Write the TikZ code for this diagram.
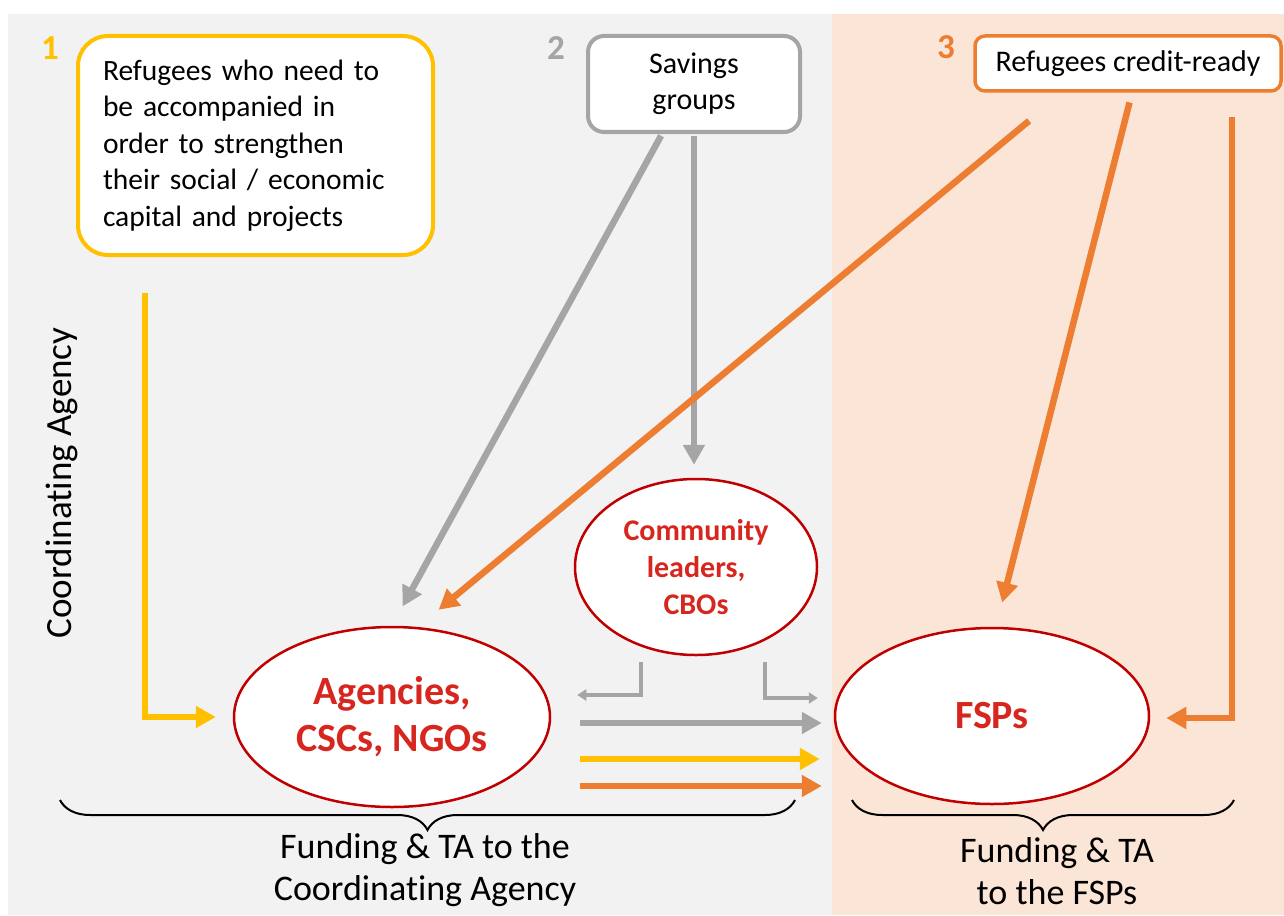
\documentclass[tikz,border=0pt]{standalone}
\usepackage{fontspec}
\setmainfont{Carlito}[Ligatures=NoCommon]
\usetikzlibrary{arrows.meta,shapes.geometric,decorations.pathreplacing}
\definecolor{bggrey}{HTML}{F2F2F2}
\definecolor{peach}{HTML}{FBE5D6}
\definecolor{ayellow}{HTML}{FFC000}
\definecolor{agrey}{HTML}{A5A5A5}
\definecolor{aorange}{HTML}{ED7D31}
\definecolor{ered}{HTML}{C00000}
\definecolor{tred}{HTML}{D7261E}
\tikzset{
	bigarrow/.style={line width=6.5pt, -{Triangle[length=20pt,width=21pt]}},
	smallarrow/.style={line width=3.5pt, -{Triangle[length=9pt,width=11pt]}},
	oval/.style={ellipse, draw=ered, line width=2.5pt, fill=white, inner sep=0pt, text=tred, align=center},
	card/.style={rectangle, line width=4pt, fill=white, align=center, inner sep=0pt},
	numlabel/.style={font=\fontsize{35}{35}\selectfont\bfseries},
	fundbrace/.style={decorate, decoration={brace, amplitude=30pt, mirror}, line width=2pt},
}

\begin{document}
\begin{tikzpicture}[x=1pt, y=-1pt]
	%%%%% START %%%%%
	\useasboundingbox (0,0) rectangle (1284,915);
	
	\fill[bggrey] (8,14) rectangle (832,915);
	\fill[peach] (832,14) rectangle (1284,915);
	
	\node[card, draw=ayellow, rounded corners=30pt, minimum width=355pt, minimum height=219pt, text width=305pt, align=left, font=\fontsize{29.5}{36.5}\selectfont] (refugees) at (255.5,145.5) {Refugees who need to\\ be accompanied in\\ order to strengthen\\ their social / economic\\ capital and projects};
	\node[card, draw=agrey, rounded corners=16pt, minimum width=212pt, minimum height=96pt, font=\fontsize{30}{36}\selectfont] (savings) at (694,84) {Savings\\ groups};
	\node[card, draw=aorange, rounded corners=10pt, minimum width=306pt, minimum height=55pt, line width=3.5pt, font=\fontsize{30}{33}\selectfont] (credit) at (1128,63.5) {Refugees credit-ready};
	
	\node[numlabel, text=ayellow] (num1) at (50,48) {1};
	\node[numlabel, text=agrey] (num2) at (556,48) {2};
	\node[numlabel, text=aorange] (num3) at (946,47) {3};
	
	\node[rotate=90, font=\fontsize{37}{37}\selectfont] (coordlabel) at (62,483) {Coordinating Agency};
	
	\node[oval, minimum width=316pt, minimum height=180pt, font=\fontsize{40}{47}\selectfont\bfseries] (agencies) at (392,717) {Agencies,\\ CSCs, NGOs};
	\node[oval, minimum width=242pt, minimum height=176pt, font=\fontsize{30}{37}\selectfont\bfseries] (community) at (696,567) {Community\\ leaders,\\ CBOs};
	\node[oval, minimum width=314pt, minimum height=176pt, font=\fontsize{40}{47}\selectfont\bfseries] (fsps) at (992,716) {FSPs};
	
	% refugees in need
	\draw[bigarrow, ayellow, shorten >=17pt] ([xshift=-110.5pt,yshift=-36pt]refugees.south) |- (agencies.west);
	
	% savings groups
	\draw[bigarrow, agrey, shorten <=2pt, shorten >=22pt] ([xshift=-32pt]savings.south) -- (agencies.north);
	\draw[bigarrow, agrey, shorten <=2pt, shorten >=13pt] (savings.south) -- (savings.south |- community.north);
	
	% credit-ready
	\draw[bigarrow, aorange, shorten <=44pt, shorten >=27pt] ([xshift=-65pt]credit.south) -- (agencies.74);
	\draw[bigarrow, aorange, shorten <=10pt, shorten >=25pt] ([xshift=4pt]credit.south) -- ([xshift=4pt]fsps.north);
	\draw[bigarrow, aorange, shorten >=16pt] ([xshift=104pt,yshift=-24pt]credit.south) |- ([yshift=-2pt]fsps.east);
	
	% community leaders
	\draw[smallarrow, agrey, shorten >=26pt] ([xshift=-55pt,yshift=-6pt]community.south) |- ([yshift=22pt]agencies.east);
	\draw[smallarrow, agrey, shorten >=16pt] ([xshift=69pt,yshift=-6pt]community.south) |- ([yshift=18pt]fsps.west);
	
	\draw[bigarrow, agrey, shorten <=29pt, shorten >=12pt] ([yshift=-6pt]agencies.east) -- ([yshift=-6pt]agencies.east -| fsps.west);
	\draw[bigarrow, ayellow, shorten <=29pt, shorten >=14pt] ([yshift=-42pt]agencies.east) -- ([yshift=-42pt]agencies.east -| fsps.west);
	\draw[bigarrow, aorange, shorten <=29pt, shorten >=12pt] ([yshift=-69pt]agencies.east) -- ([yshift=-69pt]agencies.east -| fsps.west);
	
	% funding
	\draw[fundbrace] (60,800) -- (795,800);
	\draw[fundbrace] (852,800) -- (1234,800);
	
	\node[font=\fontsize{36}{42}\selectfont, align=center] (fundagency) at (425,870) {Funding \& TA to the\\ Coordinating Agency};
	\node[font=\fontsize{36}{42}\selectfont, align=center] (fundfsps) at (1057,871) {Funding \& TA\\ to the FSPs};
	
	%%%%% END %%%%%
\end{tikzpicture}
\end{document}
